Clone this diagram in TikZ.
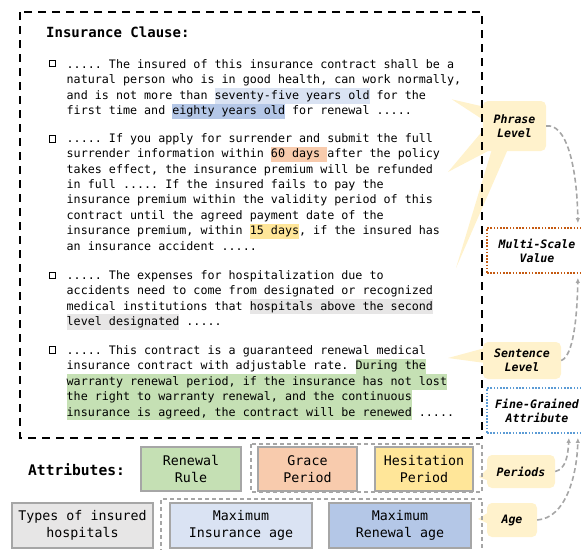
\documentclass[tikz,border=0pt]{standalone}
\usepackage{fontspec}
\setmonofont{DejaVu Sans Mono}
\usetikzlibrary{arrows.meta}
\definecolor{hlLB}{HTML}{DAE3F3}
\definecolor{hlB}{HTML}{B4C7E7}
\definecolor{hlO}{HTML}{F8CBAD}
\definecolor{hlY}{HTML}{FFE699}
\definecolor{hlG}{HTML}{E7E6E6}
\definecolor{hlGr}{HTML}{C5E0B4}
\definecolor{callY}{HTML}{FFF2CC}
\definecolor{edgeG}{HTML}{A6A6A6}
\definecolor{arrG}{HTML}{A6A6A6}
\definecolor{dotO}{HTML}{C55A11}
\definecolor{dotB}{HTML}{5B9BD5}
\newcommand\hlt[2]{{\setlength\fboxsep{0pt}\colorbox{#1}{\rule[-4.2pt]{0pt}{15.3pt}#2}}}
\begin{document}
\begin{tikzpicture}[x=1pt,y=-1pt,
  para/.style={anchor=base west, inner sep=0pt, align=left,
    font=\fontsize{11.7}{15.4}\selectfont\ttfamily\frenchspacing},
  bulletbox/.style={draw, line width=1.4pt, minimum size=6.5pt, inner sep=0pt},
  attr/.style={draw=edgeG, line width=1.3pt, inner sep=0pt, align=center,
    font=\fontsize{13.3}{17}\selectfont\ttfamily},
  callout/.style={fill=callY, rounded corners=5pt, inner sep=0pt, align=center,
    font=\fontsize{11.6}{14}\selectfont\ttfamily\bfseries\itshape},
  scalebox/.style={fill=white, line width=1.8pt, dash pattern=on 1.6pt off 1.6pt,
    minimum width=100pt, minimum height=45pt, inner sep=0pt, align=center,
    font=\fontsize{11.6}{14}\selectfont\ttfamily\bfseries\itshape},
  grpdash/.style={draw=edgeG, line width=1.2pt, dash pattern=on 4pt off 3pt},
  flow/.style={draw=arrG, line width=1.6pt, dash pattern=on 5pt off 3pt,
    -{Latex[length=5pt,width=4.5pt]}}
]
\useasboundingbox (0,0) rectangle (581,549);

% callouts (behind everything)
\fill[callY] (485,107) -- (451.7,99.3) -- (485,121) -- cycle;
\fill[callY] (485,128) -- (448,172) -- (490,150) -- cycle;
\fill[callY] (492,149) -- (456,268) -- (508,149) -- cycle;
\fill[callY] (485,348) -- (448,358) -- (485,363) -- cycle;
\fill[callY] (489,467) -- (479,477) -- (489,481) -- cycle;
\fill[callY] (489,512) -- (478,519) -- (489,524) -- cycle;
\node[callout, minimum width=63pt, minimum height=50pt] (phrase) at (514.5,126) {Phrase\\Level};
\node[callout, minimum width=78pt, minimum height=37pt] (sent) at (522,360.5) {Sentence\\Level};
\node[callout, minimum width=68pt, minimum height=33pt] (periods) at (521,471.5) {Periods};
\node[callout, minimum width=50pt, minimum height=34pt] (age) at (512,520) {Age};

% scale boxes
\node[scalebox, draw=dotO] (msv) at (537,250.5) {Multi-Scale\\Value};
\node[scalebox, draw=dotB] (fga) at (537,410.5) {Fine-Grained\\Attribute};

% big dashed frame
\draw[line width=2pt, dash pattern=on 8pt off 6pt] (20,12) rectangle (482,438);

% title
\node[anchor=base west, inner sep=0pt, font=\fontsize{14}{17}\selectfont\ttfamily\bfseries] (title) at (46,37.7) {Insurance Clause:};

% bullets
\node[bulletbox] (b1) at (52.5,63.5) {};
\node[bulletbox] (b2) at (52.5,139) {};
\node[bulletbox] (b3) at (52.5,275.5) {};
\node[bulletbox] (b4) at (52.5,350) {};

% paragraphs (anchored at the baseline of their last line)
\node[para] (p1) at (66.5,114.7) {..... The insured of this insurance contract shall be a\\
natural person who is in good health, can work normally,\\
and is not more than \hlt{hlLB}{seventy-five years old} for the\\
first time and \hlt{hlB}{eighty years old} for renewal .....};

\node[para] (p2) at (66.5,250.1) {..... If you apply for surrender and submit the full\\
surrender information within \hlt{hlO}{60 days }after the policy\\
takes effect, the insurance premium will be refunded\\
in full ..... If the insured fails to pay the\\
insurance premium within the validity period of this\\
contract until the agreed payment date of the\\
insurance premium, within \hlt{hlY}{15 days}, if the insured has\\
an insurance accident .....};

\node[para] (p3) at (66.5,325.5) {..... The expenses for hospitalization due to\\
accidents need to come from designated or recognized\\
medical institutions that \hlt{hlG}{hospitals above the second}\\
\hlt{hlG}{level designated} .....};

\node[para] (p4) at (66.5,416.1) {..... This contract is a guaranteed renewal medical\\
insurance contract with adjustable rate. \hlt{hlGr}{During the}\\
\hlt{hlGr}{warranty renewal period, if the insurance has not lost}\\
\hlt{hlGr}{the right to warranty renewal, and the continuous}\\
\hlt{hlGr}{insurance is agreed, the contract will be renewed} .....};

% attributes
\node[anchor=base west, inner sep=0pt, font=\fontsize{14.6}{17}\selectfont\ttfamily\bfseries] (attrlabel) at (28,475) {Attributes:};
\draw[grpdash] (251,444) rectangle (482,492);
\draw[grpdash] (161,560) -- (161,499) -- (482,499) -- (482,560);
\node[attr, fill=hlGr, minimum width=100pt, minimum height=44pt] (renew) at (191,469) {Renewal\\Rule};
\node[attr, fill=hlO, minimum width=99pt, minimum height=44pt] (grace) at (307.5,469) {Grace\\Period};
\node[attr, fill=hlY, minimum width=98pt, minimum height=44pt] (hes) at (424,469) {Hesitation\\Period};
\node[attr, fill=hlG, minimum width=141pt, minimum height=45pt] (types) at (82.5,525.5) {Types of insured\\hospitals};
\node[attr, fill=hlLB, minimum width=142pt, minimum height=45pt] (maxins) at (241,525.5) {Maximum\\Insurance age};
\node[attr, fill=hlB, minimum width=142pt, minimum height=45pt] (maxren) at (400,525.5) {Maximum\\Renewal age};

% arrows
\draw[flow] (phrase.east) .. controls (566,123) and (577,165) .. ([xshift=-10pt,yshift=4pt]msv.north east);
\draw[flow] (sent.east) .. controls (573,356) and (577,320) .. ([xshift=-10pt,yshift=-4pt]msv.south east);
\draw[flow] (periods.east) .. controls (566,469) and (568,455) .. ([xshift=-19pt,yshift=-4pt]fga.south east);
\draw[flow] (age.east) .. controls (566,518) and (577,475) .. ([xshift=-10pt,yshift=-4pt]fga.south east);
\end{tikzpicture}
\end{document}
